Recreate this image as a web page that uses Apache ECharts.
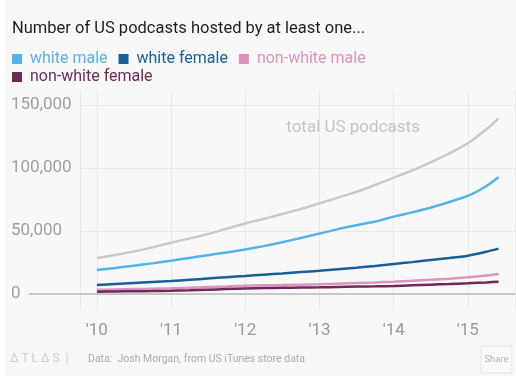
<!DOCTYPE html>
<html>
<head>
<meta charset="utf-8">
<script src="https://cdn.jsdelivr.net/npm/echarts@6/dist/echarts.min.js"></script>
<style>
  html, body { margin: 0; padding: 0; background: #ffffff; }
  #chart { position: absolute; left: 5px; top: 0; width: 511px; height: 376px; background: #f8f8f8; }
</style>
</head>
<body>
<div id="chart"></div>
<script>
// Quarterly dates, Jan 2010 to Jun 2015
const dates = [
  '2010-01-01','2010-04-01','2010-07-01','2010-10-01',
  '2011-01-01','2011-04-01','2011-07-01','2011-10-01',
  '2012-01-01','2012-04-01','2012-07-01','2012-10-01',
  '2013-01-01','2013-04-01','2013-07-01','2013-10-01',
  '2014-01-01','2014-04-01','2014-07-01','2014-10-01',
  '2015-01-01','2015-04-01','2015-06-01'
];

// Podcasts (thousands)
const totalUS = [28.5,31.0,33.8,37.0,40.7,44.0,47.5,51.8,56.0,59.5,63.5,67.5,72.0,76.5,81.0,86.5,92.3,98.0,104.5,111.5,119.6,130.5,139.4];
const whiteMale = [19.0,20.7,22.5,24.3,26.4,28.6,30.8,33.0,35.4,38.0,41.0,44.5,48.0,51.5,54.5,57.5,61.4,64.8,68.5,73.0,77.8,85.5,92.6];
const whiteFemale = [7.1,7.9,8.7,9.5,10.3,11.3,12.3,13.3,14.3,15.3,16.3,17.4,18.5,19.7,20.9,22.2,23.8,25.3,26.9,28.5,30.4,33.5,36.0];
const nonWhiteMale = [3.3,3.6,3.9,4.2,4.5,5.0,5.5,6.0,6.6,6.9,7.1,7.4,7.7,8.2,8.7,9.2,9.8,10.5,11.3,12.2,13.2,14.6,15.9];
const nonWhiteFemale = [1.8,2.0,2.2,2.3,2.5,2.9,3.4,3.9,4.4,4.7,4.9,5.1,5.3,5.6,5.9,6.1,6.4,6.9,7.4,7.9,8.5,9.2,9.8];

const seriesNames = ['white male', 'white female', 'non-white male', 'non-white female'];
const seriesColors = ['#55b4e7', '#17609a', '#dd93bd', '#6c2b58'];
const yTicks = [0, 50000, 100000, 150000];

const FONT = 'Roboto, "Noto Sans", sans-serif';
const xMin = '2009-10-10';
const xMax = '2015-08-21';

function pairs(values) {
  return dates.map((d, i) => [d, values[i] * 1000]);
}

const chart = echarts.init(document.getElementById('chart'));

function lineSeries(name, values, color, width) {
  return {
    name: name,
    type: 'line',
    xAxisIndex: 0,
    yAxisIndex: 0,
    data: pairs(values),
    showSymbol: false,
    symbol: 'none',
    smooth: 0.2,
    lineStyle: { color: color, width: width },
    itemStyle: { color: color },
    emphasis: { disabled: true },
    z: 3
  };
}

const legendText = { fontSize: 16, fontFamily: FONT, padding: [0, 0, 0, 3] };

const option = {
  animation: false,
  textStyle: { fontFamily: FONT },
  title: {
    text: 'Number of US podcasts hosted by at least one...',
    left: 7,
    top: 20,
    padding: 0,
    textStyle: { fontSize: 16.5, fontWeight: 'normal', color: '#1e1e1e', fontFamily: FONT }
  },
  legend: [
    {
      data: seriesNames.slice(0, 3).map((n, i) => ({ name: n, textStyle: { color: seriesColors[i] } })),
      left: 7, top: 51, padding: 0,
      icon: 'rect', itemWidth: 10, itemHeight: 10, itemGap: 11,
      selectedMode: false,
      textStyle: legendText
    },
    {
      data: [{ name: seriesNames[3], textStyle: { color: seriesColors[3] } }],
      left: 7, top: 69, padding: 0,
      icon: 'rect', itemWidth: 10, itemHeight: 10,
      selectedMode: false,
      textStyle: legendText
    }
  ],
  grid: [
    { left: 75, right: 1, top: 105, bottom: 82 },
    { left: 75, right: 1, top: 91, bottom: 66 }
  ],
  xAxis: [
    {
      type: 'time', gridIndex: 0, min: xMin, max: xMax,
      axisLine: { show: false }, axisTick: { show: false },
      axisLabel: { show: false }, splitLine: { show: false }
    },
    {
      type: 'time', gridIndex: 1, min: xMin, max: xMax,
      axisLine: { show: false }, axisTick: { show: false },
      splitNumber: 6,
      axisLabel: {
        color: '#9a9a9a', fontSize: 17, margin: 12, fontFamily: FONT,
        showMinLabel: false, showMaxLabel: false,
        formatter: function (v) {
          const d = new Date(v);
          return (d.getMonth() === 0 && d.getDate() === 1) ? "'" + String(d.getFullYear()).slice(2) : '';
        }
      },
      splitLine: { show: true, lineStyle: { color: '#e9e9e9', width: 1 } }
    }
  ],
  yAxis: [
    {
      type: 'value', gridIndex: 0, min: yTicks[0], max: yTicks[yTicks.length - 1], interval: yTicks[1] - yTicks[0],
      axisLine: { show: false }, axisTick: { show: false },
      axisLabel: {
        color: '#a0a0a0', fontSize: 17, align: 'left', margin: 69, fontFamily: FONT,
        formatter: function (v) { return v.toLocaleString('en-US'); }
      },
      splitLine: { show: true, lineStyle: { color: '#e9e9e9', width: 1 } }
    },
    {
      type: 'value', gridIndex: 1, show: false
    }
  ],
  series: [
    lineSeries('total US podcasts', totalUS, '#c9c9c9', 2.5),
    lineSeries(seriesNames[0], whiteMale, seriesColors[0], 2.5),
    lineSeries(seriesNames[1], whiteFemale, seriesColors[1], 2.5),
    lineSeries(seriesNames[2], nonWhiteMale, seriesColors[2], 2.5),
    lineSeries(seriesNames[3], nonWhiteFemale, seriesColors[3], 2.5)
  ]
};

chart.setOption(option);

// Baseline at zero, the annotation and the footer
const zeroY = chart.convertToPixel({ yAxisIndex: 0 }, 0);
const annoX = chart.convertToPixel({ xAxisIndex: 0 }, '2013-06-15');
const annoY = chart.convertToPixel({ yAxisIndex: 0 }, 132000);
const rightX = chart.getWidth() - 1;

chart.setOption({
  graphic: [
    {
      type: 'line', z: 2,
      shape: { x1: 24, y1: zeroY, x2: rightX, y2: zeroY },
      style: { stroke: '#b9b9b9', lineWidth: 1.5 }
    },
    {
      type: 'text', z: 4,
      x: annoX, y: annoY,
      style: { text: 'total US podcasts', fill: '#c4c4c4', fontSize: 17, fontFamily: FONT, align: 'center', verticalAlign: 'middle' }
    },
    {
      type: 'text', x: 5, y: 359,
      style: { text: 'Δ T L Δ S  |', fill: '#cfcfcf', fontSize: 12, fontFamily: FONT, verticalAlign: 'middle' }
    },
    {
      type: 'text', x: 83, y: 359,
      style: { text: 'Data:  Josh Morgan, from US iTunes store data', fill: '#ababab', fontSize: 10.5, fontFamily: FONT, verticalAlign: 'middle' }
    },
    {
      type: 'rect', x: 476, y: 346,
      shape: { width: 31, height: 27, r: 1 },
      style: { fill: '#fafafa', stroke: '#e2e2e2', lineWidth: 1 }
    },
    {
      type: 'text', x: 491.5, y: 360,
      style: { text: 'Share', fill: '#b4b4b4', fontSize: 9.5, fontFamily: FONT, align: 'center', verticalAlign: 'middle' }
    }
  ]
});
</script>
</body>
</html>
